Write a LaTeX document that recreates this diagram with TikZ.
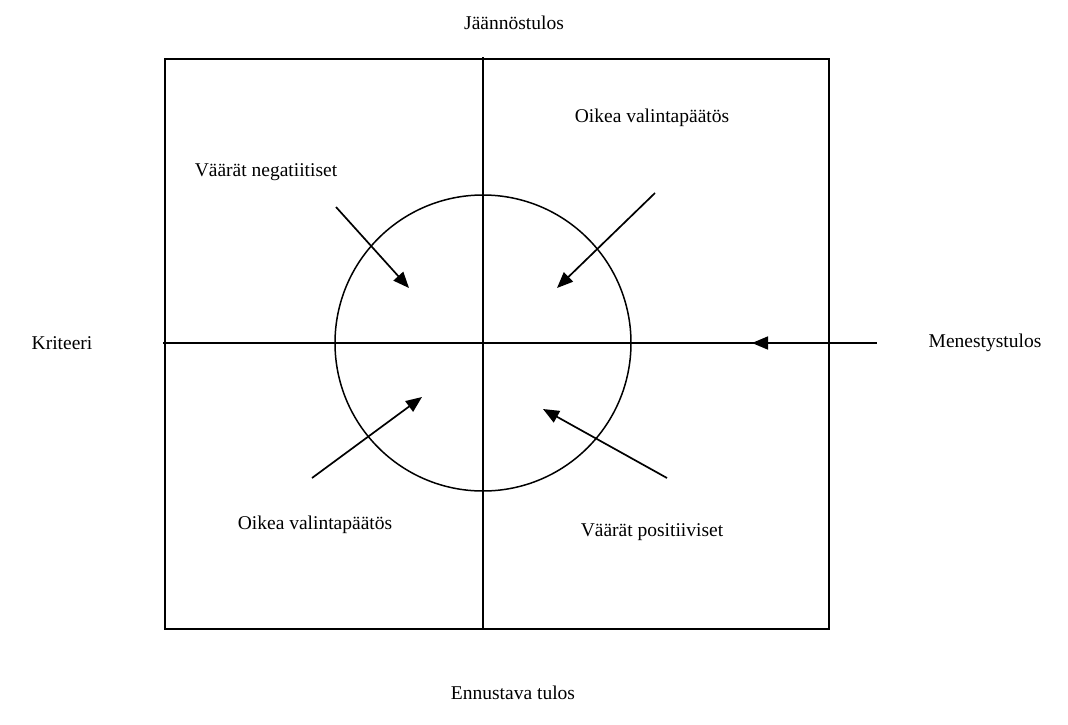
\documentclass[tikz,border=0pt]{standalone}
\usepackage{fontspec}
\setmainfont{Liberation Serif}
\usetikzlibrary{arrows.meta}
\begin{document}
\begin{tikzpicture}[x=1pt,y=-1pt,
  lbl/.style={font=\fontsize{19.5}{22}\selectfont, inner sep=0pt},
  ln/.style={line width=1.6pt, line cap=rect},
  arr/.style={line width=1.7pt, -{Triangle[length=16pt,width=13pt]}}]
\useasboundingbox (0,0) rectangle (1068,724);
% frame
\node[draw, line width=1.6pt, minimum width=664pt, minimum height=570pt, inner sep=0pt, anchor=north west] (box) at (164,58) {};
\coordinate (top) at (483,58);
\coordinate (bot) at (483,628);
\coordinate (lft) at (164,343);
\coordinate (rgt) at (876,343);
\draw[ln] (top) -- (bot);
\draw[ln] (lft) -- (rgt);
\node[draw, circle, line width=1.5pt, minimum size=296pt, inner sep=0pt] (circ) at (483,343) {};
% labels
\node[lbl] (jaan) at (514,23) {Jäännöstulos};
\node[lbl] (vneg) at (266,172) {Väärät negatiitiset};
\node[lbl] (ovtop) at (652,118) {Oikea valintapäätös};
\node[lbl] (krit) at (62,343) {Kriteeri};
\node[lbl] (menes) at (985,343) {Menestystulos};
\node[lbl] (ovbot) at (315,525) {Oikea valintapäätös};
\node[lbl] (vpos) at (652,532) {Väärät positiiviset};
\node[lbl] (ennu) at (513,693) {Ennustava tulos};
% arrows
\coordinate (a1s) at (336,207); \coordinate (a1e) at (409,288);
\coordinate (a2s) at (655,193); \coordinate (a2e) at (557,288);
\coordinate (a3s) at (312,478); \coordinate (a3e) at (422,397);
\coordinate (a4s) at (667,478); \coordinate (a4e) at (543,409);
\coordinate (a5e) at (752,343);
\draw[arr] (a1s) -- (a1e);
\draw[arr] (a2s) -- (a2e);
\draw[arr] (a3s) -- (a3e);
\draw[arr] (a4s) -- (a4e);
\draw[arr] (rgt) -- (a5e);
\end{tikzpicture}
\end{document}
